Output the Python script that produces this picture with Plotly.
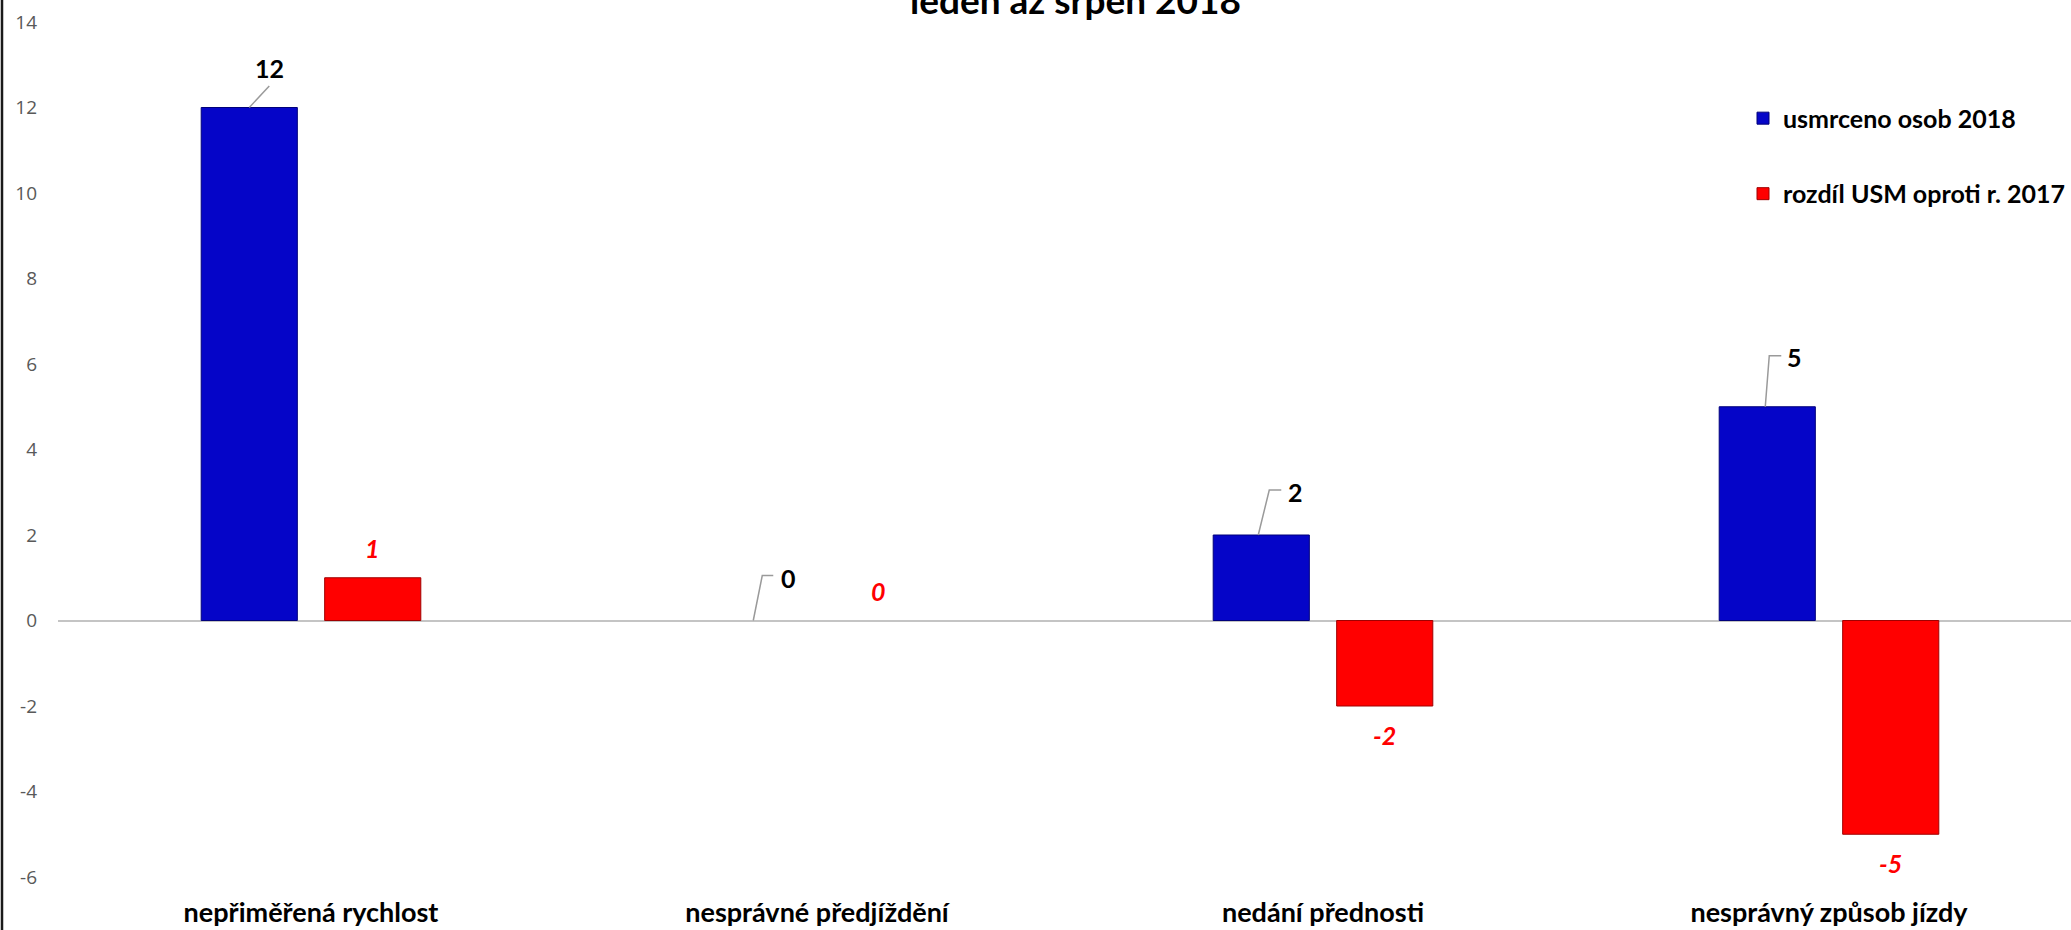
import plotly.graph_objects as go

categories = ["nepřiměřená rychlost", "nesprávné předjíždění", "nedání přednosti", "nesprávný způsob jízdy"]
killed_2018 = [12, 0, 2, 5]
diff_vs_2017 = [1, 0, -2, -5]
series_names = ["usmrceno osob 2018", "rozdíl USM oproti r. 2017"]
title_text = "leden až srpen 2018"
y_ticks = [14, 12, 10, 8, 6, 4, 2, 0, -2, -4, -6]

# style constants
BLUE = "#0505C8"
RED = "#FF0000"
BAR_W = 0.19
BLUE_C = -0.122
RED_C = 0.122
FONT = "Lato"
ML, MT, MB = 58, 21.5, 52.5
W, H = 2071, 930
pw = W - ML
ph = H - MT - MB

xs = list(range(len(categories)))

fig = go.Figure()
fig.add_trace(go.Bar(
    x=xs, y=killed_2018, name=series_names[0], width=BAR_W, offset=BLUE_C - BAR_W / 2,
    marker=dict(color=BLUE, line=dict(color="#00007A", width=[1 if v != 0 else 0 for v in killed_2018])),
    legendgroup="a",
))
fig.add_trace(go.Bar(
    x=xs, y=diff_vs_2017, name=series_names[1], width=BAR_W, offset=RED_C - BAR_W / 2,
    marker=dict(color=RED, line=dict(color="#A00000", width=[1 if v != 0 else 0 for v in diff_vs_2017])),
    legendgroup="b",
))

# leader line geometry (pixel offsets from bar top) and label offsets for blue labels
leader_paths = [
    [(0, 0), (20, 21.5)],
    [(-2, 0), (7, 45), (18, 45)],
    [(-3, 0), (8, 45), (20, 45)],
    [(-2, 0), (2, 51), (14, 51)],
]
label_offsets = [(20, 40), (33, 43), (34, 43), (27, 50)]

annotations = []
shapes = []
for i, v in enumerate(killed_2018):
    pts = leader_paths[i]
    path = "M " + " L ".join(f"{px},{py}" for px, py in pts)
    shapes.append(dict(type="path", xref="x", yref="y", xsizemode="pixel", ysizemode="pixel",
                       xanchor=xs[i] + BLUE_C, yanchor=v, path=path,
                       line=dict(color="#9A9A9A", width=1.5)))
    dx, dy = label_offsets[i]
    annotations.append(dict(x=xs[i] + BLUE_C, y=v, xref="x", yref="y", text=f"<b>{v}</b>",
                            showarrow=False, xshift=dx, yshift=dy, xanchor="center", yanchor="middle",
                            font=dict(family=FONT, size=25, color="black")))
for i, v in enumerate(diff_vs_2017):
    annotations.append(dict(x=xs[i] + RED_C, y=v, xref="x", yref="y", text=f"<b><i>{v}</i></b>",
                            showarrow=False, yshift=30 if v >= 0 else -29, xanchor="center", yanchor="middle",
                            font=dict(family=FONT, size=25, color="#FF0000")))

annotations.append(dict(x=(1075 - ML) / pw, y=1 + (MT + 1) / ph, xref="paper", yref="paper",
                        text=f"<b>{title_text}</b>", showarrow=False, xanchor="center", yanchor="middle",
                        font=dict(family=FONT, size=37, color="black")))

shapes.append(dict(type="line", xref="paper", yref="paper",
                   x0=(2 - ML) / pw, x1=(2 - ML) / pw, y0=-1, y1=2,
                   line=dict(color="#1A1A1A", width=2.5)))

fig.update_layout(
    width=W, height=H,
    margin=dict(l=ML, r=0, t=MT, b=MB, pad=0, autoexpand=False),
    paper_bgcolor="white", plot_bgcolor="white",
    barmode="overlay",
    showlegend=True,
    legend=dict(x=(1743 - ML) / pw, y=1 - (95 - MT) / ph, xanchor="left", yanchor="top",
                font=dict(family=FONT, size=25, color="black", weight="bold"),
                traceorder="grouped", tracegroupgap=40, bgcolor="rgba(0,0,0,0)"),
    xaxis=dict(range=[-0.5, -0.5 + pw / 506], tickvals=xs, ticktext=[f"<b>{c}</b>" for c in categories],
               tickfont=dict(family=FONT, size=27, color="black"), showgrid=False, zeroline=False,
               showline=False, ticks="", ticklabelstandoff=17, fixedrange=True, automargin=False),
    yaxis=dict(range=[-6, 14], tickvals=y_ticks, ticktext=[str(t) for t in y_ticks],
               tickfont=dict(family="Open Sans", size=19, color="#595959"), showgrid=False,
               zeroline=True, zerolinecolor="#C4C4C4", zerolinewidth=2, showline=False, ticks="",
               ticklabelstandoff=20, fixedrange=True, automargin=False),
    annotations=annotations,
    shapes=shapes,
)

fig.write_html("out.html", config={"displayModeBar": False},
               post_script="document.body.style.margin='0';document.body.style.overflow='hidden';")
